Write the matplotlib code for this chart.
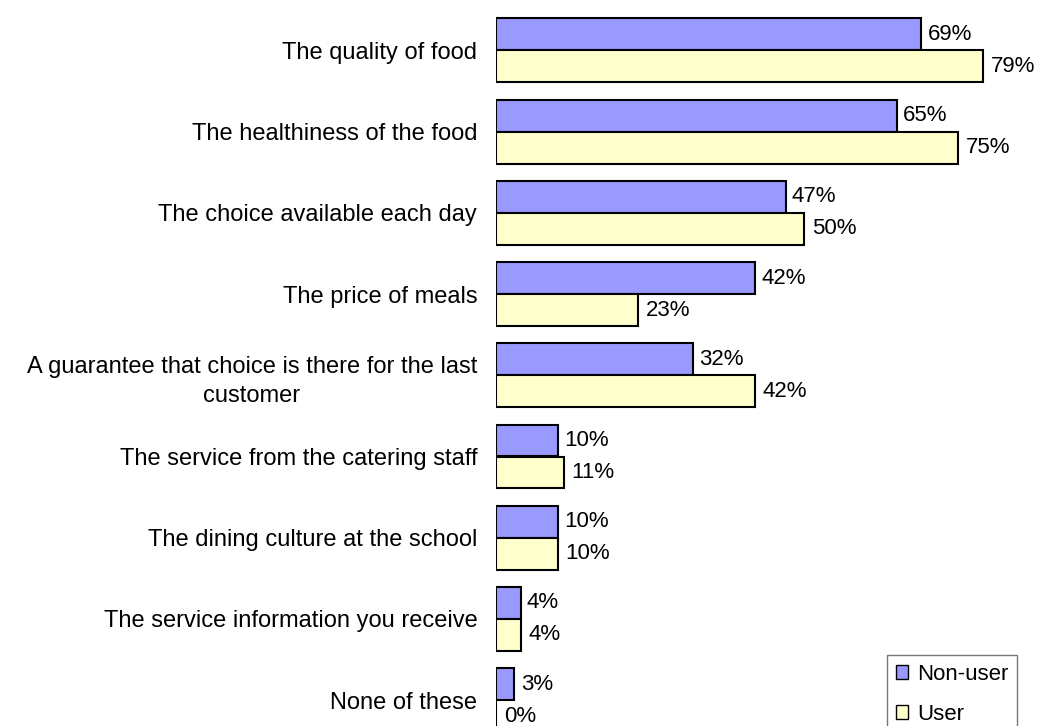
import matplotlib.pyplot as plt
import numpy as np
from matplotlib.patches import Patch

categories = [
    "The quality of food",
    "The healthiness of the food",
    "The choice available each day",
    "The price of meals",
    "A guarantee that choice is there for the last\ncustomer",
    "The service from the catering staff",
    "The dining culture at the school",
    "The service information you receive",
    "None of these",
]
non_user = [69, 65, 47, 42, 32, 10, 10, 4, 3]
user = [79, 75, 50, 23, 42, 11, 10, 4, 0]

NON_USER_COLOR = "#9999FF"
USER_COLOR = "#FFFFCC"

plt.rcParams["font.family"] = ["Liberation Sans", "DejaVu Sans"]

W, H = 1039, 726
fig = plt.figure(figsize=(W / 100, H / 100), dpi=100)

# axes spans from the bar origin to the right edge, full height
left_px = 496
ax = fig.add_axes([left_px / W, 0, 1 - left_px / W, 1])

pitch = 81.2       # px between groups
first_mid = 50.5   # px of boundary between bars in first group
bar_h = 32 / pitch

y = np.arange(len(categories))
ax.barh(y - bar_h / 2, non_user, height=bar_h, color=NON_USER_COLOR,
        edgecolor="black", linewidth=1.5, label="Non-user")
ax.barh(y + bar_h / 2, user, height=bar_h, color=USER_COLOR,
        edgecolor="black", linewidth=1.5, label="User")

px_per_pct = 6.163
ax.set_xlim(0, (W - left_px) / px_per_pct)
ax.set_ylim((H - first_mid) / pitch, -first_mid / pitch)

for yi, v in zip(y, non_user):
    ax.annotate(f"{v}%", (v, yi - bar_h / 2), xytext=(4.5, 0),
                textcoords="offset points", va="center", ha="left",
                fontsize=16)
for yi, v in zip(y, user):
    ax.annotate(f"{v}%", (v, yi + bar_h / 2), xytext=(5.5, 0),
                textcoords="offset points", va="center", ha="left",
                fontsize=16)

ax.set_yticks(y)
ax.set_yticklabels(categories, fontsize=17, multialignment="center",
                   linespacing=1.45)
ax.tick_params(axis="y", length=0, pad=13.5)
ax.set_xticks([])
for s in ax.spines.values():
    s.set_visible(False)

handles = [
    Patch(facecolor=NON_USER_COLOR, edgecolor="black", linewidth=1.0),
    Patch(facecolor=USER_COLOR, edgecolor="black", linewidth=1.0),
]
leg = fig.legend(handles, ["Non-user", "User"], loc="upper left",
                 bbox_to_anchor=(887 / W, 1 - 655 / H),
                 fontsize=16, frameon=True, fancybox=False,
                 handlelength=0.55, handleheight=0.55, handletextpad=0.4,
                 labelspacing=0.85, borderpad=0.4, borderaxespad=0)
leg.get_frame().set_edgecolor("#555555")
leg.get_frame().set_linewidth(1.0)

fig.savefig("out.png", dpi=100)
